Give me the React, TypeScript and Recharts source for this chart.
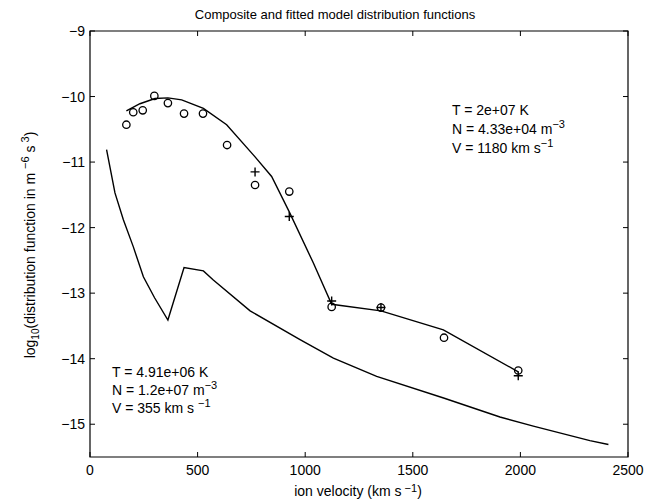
import { ComposedChart, Line, Scatter, XAxis, YAxis, ReferenceArea } from "recharts";

const speedTicks = [0, 500, 1000, 1500, 2000, 2500];
const logTicks = [-15, -14, -13, -12, -11, -10, -9];

// fitted composite model (upper curve)
const fitSpeed = [169, 232, 302, 362, 426, 527, 635, 767, 844, 926, 1038, 1123, 1352, 1642, 1990];
const fitLog = [-10.22, -10.11, -10.03, -10.02, -10.05, -10.18, -10.43, -10.92, -11.22, -11.76, -12.54, -13.17, -13.27, -13.56, -14.2];

// lower model curve
const lowSpeed = [77, 116, 155, 201, 248, 300, 362, 437, 527, 573, 744, 976, 1131, 1332, 1643, 1905, 2060, 2323, 2409];
const lowLog = [-10.81, -11.47, -11.88, -12.29, -12.75, -13.07, -13.41, -12.61, -12.66, -12.8, -13.27, -13.71, -13.99, -14.27, -14.6, -14.89, -15.03, -15.25, -15.31];

// observed points (circles)
const obsSpeed = [169, 201, 245, 299, 362, 437, 525, 637, 767, 926, 1123, 1352, 1645, 1990];
const obsLog = [-10.43, -10.24, -10.21, -9.99, -10.1, -10.26, -10.26, -10.74, -11.35, -11.45, -13.21, -13.22, -13.68, -14.18];

// plus markers
const plusSpeed = [767, 926, 1123, 1352, 1990];
const plusLog = [-11.15, -11.83, -13.12, -13.22, -14.26];

const rows = (xs: number[], ys: number[]) => xs.map((v, i) => ({ v, f: ys[i] }));

const W = 646;
const H = 492;
const TOP = 23;
const BOTTOM = 449;
const LEFT = 82;
const RIGHT = 620;
const FONT = "'Liberation Sans', Arial, Helvetica, sans-serif";

const fmt = (n: number) => (n < 0 ? "\u2212" + Math.abs(n) : String(n));

function XTick(p: any) {
  const x = p.x;
  return (
    <g>
      <line x1={x} x2={x} y1={BOTTOM} y2={BOTTOM - 5} stroke="#000" />
      <line x1={x} x2={x} y1={TOP} y2={TOP + 5} stroke="#000" />
      <text x={x} y={BOTTOM + 18} textAnchor="middle" fontSize={14} fontFamily={FONT} fill="#000">
        {p.payload.value}
      </text>
    </g>
  );
}

function YTick(p: any) {
  const y = p.y;
  return (
    <g>
      <line x1={LEFT} x2={LEFT + 5} y1={y} y2={y} stroke="#000" />
      <line x1={RIGHT} x2={RIGHT - 5} y1={y} y2={y} stroke="#000" />
      <text x={LEFT - 5} y={y + 5} textAnchor="end" fontSize={14} fontFamily={FONT} fill="#000">
        {fmt(p.payload.value)}
      </text>
    </g>
  );
}

const Ring = (p: any) => (
  <circle cx={p.cx} cy={p.cy} r={3.7} fill="none" stroke="#000" strokeWidth={1.3} />
);

const Plus = (p: any) => (
  <path
    d={`M${p.cx - 4.5},${p.cy}H${p.cx + 4.5}M${p.cx},${p.cy - 4.5}V${p.cy + 4.5}`}
    stroke="#000"
    strokeWidth={1.4}
    fill="none"
  />
);

const sup: React.CSSProperties = { fontSize: 11, verticalAlign: "super", lineHeight: 0 };
const lowSup: React.CSSProperties = { fontSize: 11, position: "relative", top: -4, lineHeight: 0 };

export default function App() {
  return (
    <div style={{ position: "relative", width: W, height: H, fontFamily: FONT, color: "#000" }}>
      <ComposedChart width={W} height={H} margin={{ top: TOP, right: W - RIGHT, bottom: 13, left: 32 }}>
        <XAxis
          type="number"
          dataKey="v"
          domain={[0, 2500]}
          ticks={speedTicks}
          interval={0}
          axisLine={false}
          tickLine={false}
          tickSize={0}
          tickMargin={0}
          height={30}
          tick={<XTick />}
          allowDataOverflow
        />
        <YAxis
          type="number"
          dataKey="f"
          domain={[-15.5, -9]}
          ticks={logTicks}
          interval={0}
          axisLine={false}
          tickLine={false}
          tickSize={0}
          tickMargin={0}
          width={50}
          tick={<YTick />}
          allowDataOverflow
        />
        <ReferenceArea x1={0} x2={2500} y1={-15.5} y2={-9} fill="none" stroke="#000" strokeWidth={1.2} />
        <Line data={rows(lowSpeed, lowLog)} dataKey="f" type="linear" stroke="#000" strokeWidth={1.4} dot={false} activeDot={false} isAnimationActive={false} />
        <Line data={rows(fitSpeed, fitLog)} dataKey="f" type="linear" stroke="#000" strokeWidth={1.4} dot={false} activeDot={false} isAnimationActive={false} />
        <Scatter data={rows(obsSpeed, obsLog)} dataKey="f" shape={Ring} isAnimationActive={false} />
        <Scatter data={rows(plusSpeed, plusLog)} dataKey="f" shape={Plus} isAnimationActive={false} />
      </ComposedChart>

      <div style={{ position: "absolute", left: 327, top: -1, transform: "translateX(-50%)", fontSize: 13, whiteSpace: "nowrap" }}>
        Composite and fitted model distribution functions
      </div>

      <div style={{ position: "absolute", left: 350, top: 475, transform: "translateX(-50%)", fontSize: 14, lineHeight: "16px", whiteSpace: "nowrap" }}>
        ion velocity (km s<span style={lowSup}>{" \u22121"}</span>)
      </div>

      <div
        style={{
          position: "absolute",
          left: 22,
          top: 237,
          transform: "translate(-50%, -50%) rotate(-90deg)",
          fontSize: 14,
          whiteSpace: "nowrap",
        }}
      >
        log<span style={{ fontSize: 10, verticalAlign: "sub", lineHeight: 0 }}>10</span>(distribution function in m{"  "}
        <span style={sup}>{"\u22126"}</span>{"  "}s<span style={sup}>{" 3"}</span>)
      </div>

      <div style={{ position: "absolute", left: 444, top: 93, fontSize: 14, lineHeight: "19px", whiteSpace: "nowrap" }}>
        <div>T = 2e+07 K</div>
        <div>
          N = 4.33e+04 m<span style={sup}>{"\u22123"}</span>
        </div>
        <div>
          V = 1180 km s<span style={sup}>{"\u22121"}</span>
        </div>
      </div>

      <div style={{ position: "absolute", left: 104, top: 355, fontSize: 14, lineHeight: "18px", whiteSpace: "nowrap" }}>
        <div>T = 4.91e+06 K</div>
        <div>
          N = 1.2e+07 m<span style={sup}>{"\u22123"}</span>
        </div>
        <div>
          V = 355 km s <span style={sup}>{"\u22121"}</span>
        </div>
      </div>
    </div>
  );
}
